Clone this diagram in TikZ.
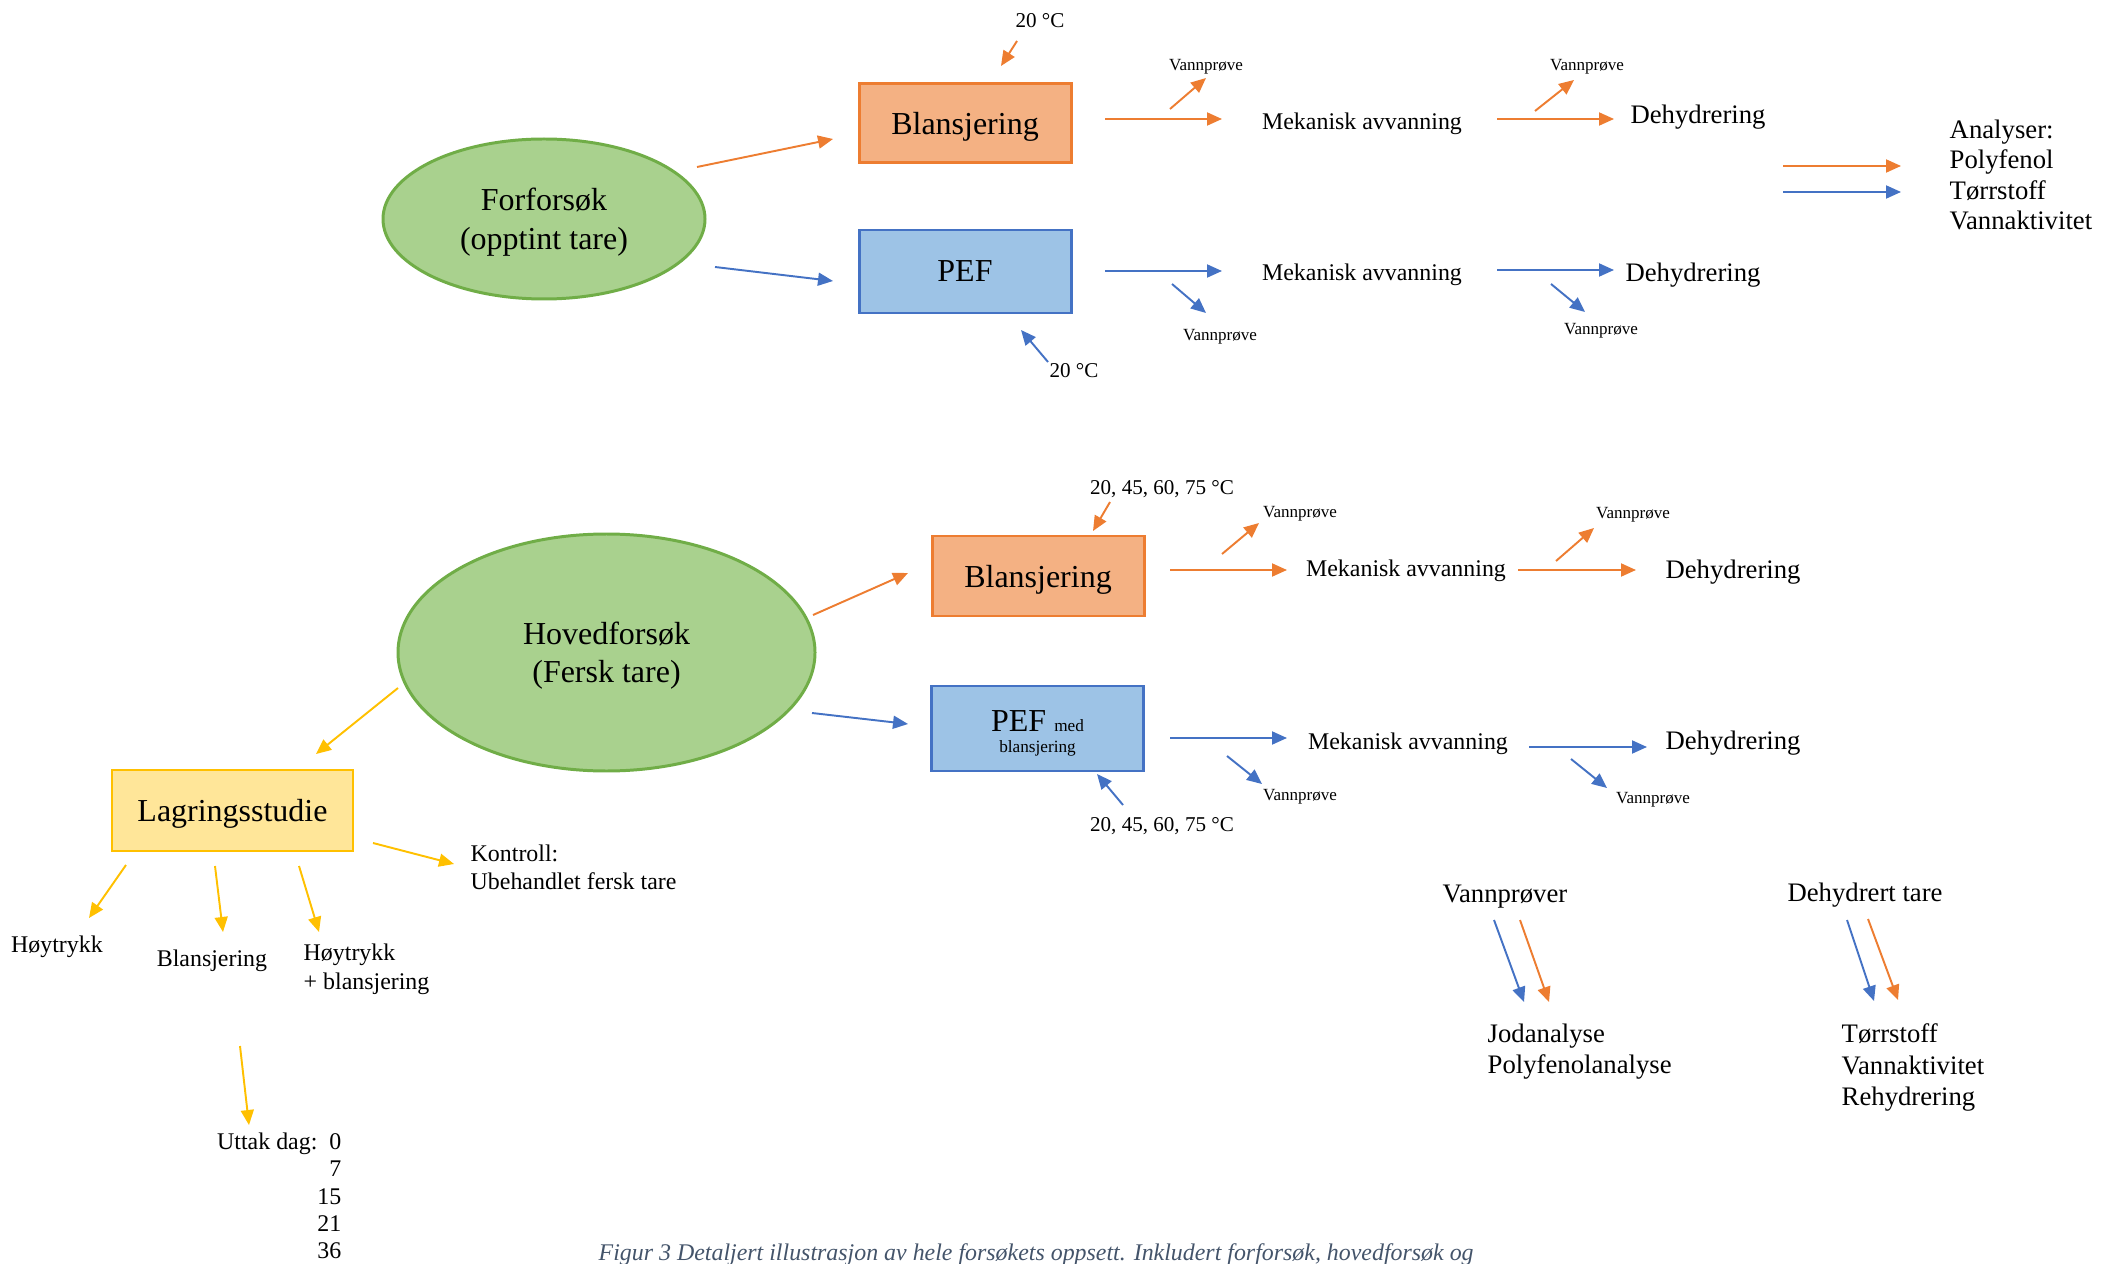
\documentclass[tikz,border=0pt]{standalone}
\usepackage{fontspec}
\setmainfont{Liberation Serif}
\usetikzlibrary{shapes.geometric, arrows.meta}
\definecolor{accorange}{HTML}{ED7D31}
\definecolor{accblue}{HTML}{4472C4}
\definecolor{peach}{HTML}{F4B183}
\definecolor{skyblue}{HTML}{9DC3E6}
\definecolor{leafgreen}{HTML}{70AD47}
\definecolor{leaflight}{HTML}{A9D18E}
\definecolor{amberline}{HTML}{FFC000}
\definecolor{amberlight}{HTML}{FFE699}
\definecolor{captiongray}{HTML}{44546A}
\tikzset{
  big/.style={font=\fontsize{9.1pt}{10.8pt}\selectfont},
  lbl/.style={font=\fontsize{6.8pt}{7.8pt}\selectfont, align=left, inner sep=0pt},
  lblb/.style={font=\fontsize{7.6pt}{8.6pt}\selectfont, align=left, inner sep=0pt},
  note/.style={font=\fontsize{4.85pt}{5.5pt}\selectfont, inner sep=0pt},
  temp/.style={font=\fontsize{6pt}{7pt}\selectfont, inner sep=0pt},
  card/.style 2 args={fill=#1, draw=#2, line width=0.85pt, big, align=center, text depth=0pt,
                      inner sep=1pt, minimum width=21.2mm, minimum height=8mm},
  oval/.style={ellipse, fill=leaflight, draw=leafgreen, line width=0.85pt, big, align=center, text depth=0pt},
  flow/.style={-{Triangle[length=1.5mm, width=1.3mm]}, line width=0.55pt, draw=#1},
}
\begin{document}
\begin{tikzpicture}[x=0.1mm, y=-0.1mm]
\useasboundingbox (0,0) rectangle (2118,1264);

% forforsøk
\node[oval, minimum width=32.2mm, minimum height=16mm, font=\fontsize{9.1pt}{11.2pt}\selectfont] (ff) at (544,219) {Forforsøk\\(opptint tare)};
\node[card={peach}{accorange}, minimum height=7.9mm] (bl1) at (965,123.5) {Blansjering};
\node[card={skyblue}{accblue}, minimum height=8.3mm] (pef1) at (965,271.5) {PEF};
\node[temp] (tc1) at (1040,21) {20 °C};
\node[temp] (tc2) at (1074,371) {20 °C};
\node[lbl] (mek1) at (1362,124) {Mekanisk avvanning};
\node[lbl] (mek2) at (1362,275) {Mekanisk avvanning};
\node[lblb] (deh1) at (1698,117) {Dehydrering};
\node[lblb] (deh2) at (1693,275) {Dehydrering};
\node[note] (vp1) at (1206,67) {Vannprøve};
\node[note] (vp2) at (1587,67) {Vannprøve};
\node[note] (vp3) at (1220,337) {Vannprøve};
\node[note] (vp4) at (1601,331) {Vannprøve};
\node[lblb, anchor=west] (ana) at (1949,175) {Analyser:\\Polyfenol\\Tørrstoff\\Vannaktivitet};

\draw[flow=accorange] ([shift={(153,-52)}]ff.center) -- ([shift={(-132,15.5)}]bl1.center);
\draw[flow=accblue] ([shift={(171,48)}]ff.center) -- ([shift={(-132,9.5)}]pef1.center);
\draw[flow=accorange] ([shift={(-23,20)}]tc1.center) -- ([shift={(36,-57.5)}]bl1.center);
\draw[flow=accblue] ([shift={(-26,-9)}]tc2.center) -- ([shift={(56,58.5)}]pef1.center);
\draw[flow=accorange] ([shift={(140,-4.5)}]bl1.center) -- ([shift={(-140,-5)}]mek1.center);
\draw[flow=accorange] ([shift={(-36,42)}]vp1.center) -- ([shift={(0,11)}]vp1.center);
\draw[flow=accorange] ([shift={(135,-5)}]mek1.center) -- ([shift={(-84,2)}]deh1.center);
\draw[flow=accorange] ([shift={(-52,44)}]vp2.center) -- ([shift={(-13,13)}]vp2.center);
\draw[flow=accblue] ([shift={(140,-0.5)}]pef1.center) -- ([shift={(-140,-4)}]mek2.center);
\draw[flow=accblue] ([shift={(-48,-53)}]vp3.center) -- ([shift={(-14,-24)}]vp3.center);
\draw[flow=accblue] ([shift={(135,-5)}]mek2.center) -- ([shift={(-79,-5)}]deh2.center);
\draw[flow=accblue] ([shift={(-50,-47)}]vp4.center) -- ([shift={(-16,-19)}]vp4.center);
\draw[flow=accorange] ([shift={(-166,-9)}]ana.west) -- ([shift={(-48,-9)}]ana.west);
\draw[flow=accblue] ([shift={(-166,17)}]ana.west) -- ([shift={(-48,17)}]ana.west);

% hovedforsøk
\node[oval, minimum width=41.7mm, minimum height=23.7mm] (hf) at (606.5,652.5) {Hovedforsøk\\(Fersk tare)};
\node[card={peach}{accorange}] (bl2) at (1038,576) {Blansjering};
\node[card={skyblue}{accblue}, minimum height=8.5mm, font=\fontsize{9.1pt}{6.1pt}\selectfont,
      text height=13.8pt, text depth=0pt] (pef2) at (1037.5,728.5)
  {PEF {\fontsize{4.9pt}{6.1pt}\selectfont med}\\{\fontsize{4.9pt}{6.1pt}\selectfont blansjering}};
\node[temp] (tc3) at (1162,489) {20, 45, 60, 75 °C};
\node[temp] (tc4) at (1162,826) {20, 45, 60, 75 °C};
\node[lbl] (mek3) at (1406,571) {Mekanisk avvanning};
\node[lbl] (mek4) at (1408,744) {Mekanisk avvanning};
\node[lblb] (deh3) at (1733,572) {Dehydrering};
\node[lblb] (deh4) at (1733,743) {Dehydrering};
\node[note] (vp5) at (1300,514) {Vannprøve};
\node[note] (vp6) at (1633,515) {Vannprøve};
\node[note] (vp7) at (1300,797) {Vannprøve};
\node[note] (vp8) at (1653,800) {Vannprøve};

\draw[flow=accorange] ([shift={(206.5,-37.5)}]hf.center) -- ([shift={(-130,-3)}]bl2.center);
\draw[flow=accblue] ([shift={(205.5,60.5)}]hf.center) -- ([shift={(-129.5,-4.5)}]pef2.center);
\draw[flow=accorange] ([shift={(-52,13)}]tc3.center) -- ([shift={(55,-45)}]bl2.center);
\draw[flow=accblue] ([shift={(-39,-21)}]tc4.center) -- ([shift={(59.5,45.5)}]pef2.center);
\draw[flow=accorange] ([shift={(132,-6)}]bl2.center) -- ([shift={(-119,-1)}]mek3.center);
\draw[flow=accorange] ([shift={(-78,40)}]vp5.center) -- ([shift={(-41,9)}]vp5.center);
\draw[flow=accorange] ([shift={(112,-1)}]mek3.center) -- ([shift={(-97,-2)}]deh3.center);
\draw[flow=accorange] ([shift={(-77,46)}]vp6.center) -- ([shift={(-39,13)}]vp6.center);
\draw[flow=accblue] ([shift={(132.5,9.5)}]pef2.center) -- ([shift={(-121,-6)}]mek4.center);
\draw[flow=accblue] ([shift={(-73,-41)}]vp7.center) -- ([shift={(-38,-13)}]vp7.center);
\draw[flow=accblue] ([shift={(121,3)}]mek4.center) -- ([shift={(-86,4)}]deh4.center);
\draw[flow=accblue] ([shift={(-82,-41)}]vp8.center) -- ([shift={(-46,-12)}]vp8.center);

% lagringsstudie
\node[card={amberlight}{amberline}, minimum width=24.1mm, minimum height=8.1mm] (lag) at (232.5,810.5) {Lagringsstudie};
\node[lbl, anchor=west] (kon) at (470,867.5) {Kontroll:\\Ubehandlet fersk tare};
\node[lbl] (hoy) at (57,947) {Høytrykk};
\node[lbl] (bla) at (212,961) {Blansjering};
\node[lbl, anchor=west, font=\fontsize{6.8pt}{8.2pt}\selectfont] (hb) at (303,969.5) {Høytrykk\\+ blansjering};
\node[lbl, anchor=north east, align=right] (utt) at (342,1132) {Uttak dag:~~0\\7\\15\\21\\36};

\draw[flow=amberline] ([shift={(-208.5,35.5)}]hf.center) -- ([shift={(83.5,-56.5)}]lag.center);
\draw[flow=amberline] ([shift={(140.5,32.5)}]lag.center) -- ([shift={(-16,-3.5)}]kon.west);
\draw[flow=amberline] ([shift={(-106.5,54.5)}]lag.center) -- ([shift={(32,-29)}]hoy.center);
\draw[flow=amberline] ([shift={(-17.5,55.5)}]lag.center) -- ([shift={(11,-29)}]bla.center);
\draw[flow=amberline] ([shift={(66.5,55.5)}]lag.center) -- ([shift={(16,-37.5)}]hb.west);
\draw[flow=amberline] ([shift={(28,85)}]bla.center) -- ([shift={(-93,-7)}]utt.north east);

% analyser
\node[lblb] (vps) at (1505,897) {Vannprøver};
\node[lblb, anchor=west, font=\fontsize{7.6pt}{8.8pt}\selectfont] (jod) at (1487,1051.5) {Jodanalyse\\Polyfenolanalyse};
\node[lblb] (dt) at (1865,895) {Dehydrert tare};
\node[lblb, anchor=west, font=\fontsize{7.6pt}{8.9pt}\selectfont] (tor) at (1841,1067.5) {Tørrstoff\\Vannaktivitet\\Rehydrering};

\draw[flow=accblue] ([shift={(-11,23)}]vps.center) -- ([shift={(37,-49.5)}]jod.west);
\draw[flow=accorange] ([shift={(15,23)}]vps.center) -- ([shift={(62,-49.5)}]jod.west);
\draw[flow=accblue] ([shift={(-18,25)}]dt.center) -- ([shift={(33,-66.5)}]tor.west);
\draw[flow=accorange] ([shift={(3,24)}]dt.center) -- ([shift={(57,-67.5)}]tor.west);

\node[font=\fontsize{6.8pt}{7.5pt}\selectfont\itshape, text=captiongray, anchor=base west, inner sep=0pt] (cap) at (598,1260)
  {Figur 3 Detaljert illustrasjon av hele forsøkets oppsett. Inkludert forforsøk, hovedforsøk og};
\end{tikzpicture}
\end{document}
